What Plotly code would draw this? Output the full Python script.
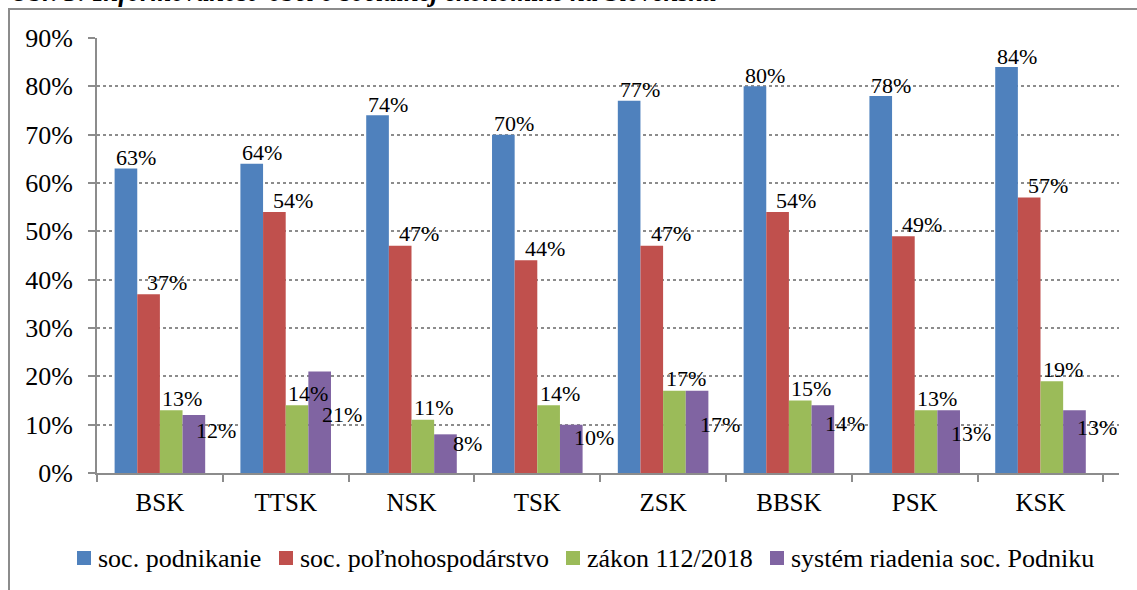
import plotly.graph_objects as go

categories = ["BSK", "TTSK", "NSK", "TSK", "ZSK", "BBSK", "PSK", "KSK"]
series_names = ["soc. podnikanie", "soc. poľnohospodárstvo", "zákon 112/2018",
                "systém riadenia soc. Podniku"]
soc_podnikanie = [63, 64, 74, 70, 77, 80, 78, 84]
soc_polnohospodarstvo = [37, 54, 47, 44, 47, 54, 49, 57]
zakon_112_2018 = [13, 14, 11, 14, 17, 15, 13, 19]
system_riadenia = [12, 21, 8, 10, 17, 14, 13, 13]
y_ticks = [0, 10, 20, 30, 40, 50, 60, 70, 80, 90]
y_tick_labels = ["0%", "10%", "20%", "30%", "40%", "50%", "60%", "70%", "80%", "90%"]
title_text = "Obr. 3: Informovanosť obcí o sociálnej ekonomike na Slovensku"

series_values = [soc_podnikanie, soc_polnohospodarstvo, zakon_112_2018, system_riadenia]
colors = ["#4F81BD", "#C0504D", "#9BBB59", "#8064A2"]
# data-label placement (pixels): per-series dx, dy; the last series' labels were
# hand-placed in the source, so their vertical nudges are given per category
label_dx = [11, 19, 11, 22]
label_dy = [[11] * 8, [12] * 8, [12] * 8, [-15, -43, -9, -13, -34, -18, -23, -17]]
# legend entry positions (left edge of swatch, pixels)
legend_x_px = [77, 279, 566, 770]
legend_y_px = 558
swatch = 14

W, H = 1137, 590
ml, mr, mt, mb = 97, 18, 38, 117
plot_w = W - ml - mr
plot_h = H - mt - mb
bargap = 0.28
bar_w = plot_w / len(categories) * (1 - bargap) / len(series_values)


def px_x(px):
    return (px - ml) / plot_w


def px_y(py):
    return (H - mb - py) / plot_h


FONT = "Liberation Serif"

fig = go.Figure()
for name, vals, col in zip(series_names, series_values, colors):
    fig.add_trace(go.Bar(x=categories, y=vals, name=name, marker_color=col,
                         marker_line_width=0, showlegend=False))

annotations = []
for i, vals in enumerate(series_values):
    off = (i - (len(series_values) - 1) / 2) * bar_w
    for j, (c, v) in enumerate(zip(categories, vals)):
        annotations.append(dict(x=c, y=v, xref="x", yref="y", text=f"{v}%",
                                showarrow=False, xshift=off + label_dx[i],
                                yshift=label_dy[i][j],
                                xanchor="center", yanchor="middle",
                                font=dict(family=FONT, size=22, color="#000000")))

annotations.append(dict(x=px_x(8), y=px_y(9), xref="paper", yref="paper",
                        xanchor="left", yanchor="bottom",
                        text=f"<b><i>{title_text}</i></b>", showarrow=False,
                        font=dict(family=FONT, size=26.5, color="#000000")))

shapes = [dict(type="rect", xref="paper", yref="paper",
               x0=px_x(9), x1=1.2, y0=-0.6, y1=px_y(9),
               line=dict(color="#8C8C8C", width=2), layer="below")]

# legend (swatch + label) for each series
for name, col, lx in zip(series_names, colors, legend_x_px):
    shapes.append(dict(type="rect", xref="paper", yref="paper",
                       x0=px_x(lx), x1=px_x(lx + swatch),
                       y0=px_y(legend_y_px + swatch / 2), y1=px_y(legend_y_px - swatch / 2),
                       fillcolor=col, line=dict(width=0)))
    annotations.append(dict(x=px_x(lx + swatch + 5), y=px_y(legend_y_px),
                            xref="paper", yref="paper", xanchor="left", yanchor="middle",
                            text=name, showarrow=False,
                            font=dict(family=FONT, size=26, color="#000000")))

fig.update_layout(
    width=W, height=H,
    margin=dict(l=ml, r=mr, t=mt, b=mb, autoexpand=False),
    paper_bgcolor="white", plot_bgcolor="white",
    barmode="group", bargap=bargap, bargroupgap=0,
    font=dict(family=FONT, color="#000000", size=24),
    annotations=annotations,
    shapes=shapes,
    showlegend=False,
    yaxis=dict(range=[0, 90], tickmode="array", tickvals=y_ticks, ticktext=y_tick_labels,
               showgrid=True, gridcolor="#8C8C8C", griddash="dot", gridwidth=1.5,
               showline=True, linecolor="#8C8C8C", linewidth=2,
               ticks="outside", ticklen=7, tickcolor="#8C8C8C", tickwidth=2,
               tickfont=dict(family=FONT, size=26, color="#000000"),
               ticklabelstandoff=10, zeroline=False, automargin=False),
    xaxis=dict(showline=True, linecolor="#8C8C8C", linewidth=2,
               ticks="outside", tickson="boundaries", ticklen=7,
               tickcolor="#8C8C8C", tickwidth=2, automargin=False,
               ticklabelstandoff=6,
               tickfont=dict(family=FONT, size=25, color="#000000")),
)

fig.write_html("out.html", config={"displayModeBar": False},
               post_script="document.body.style.margin='0';document.body.style.overflow='hidden';")
